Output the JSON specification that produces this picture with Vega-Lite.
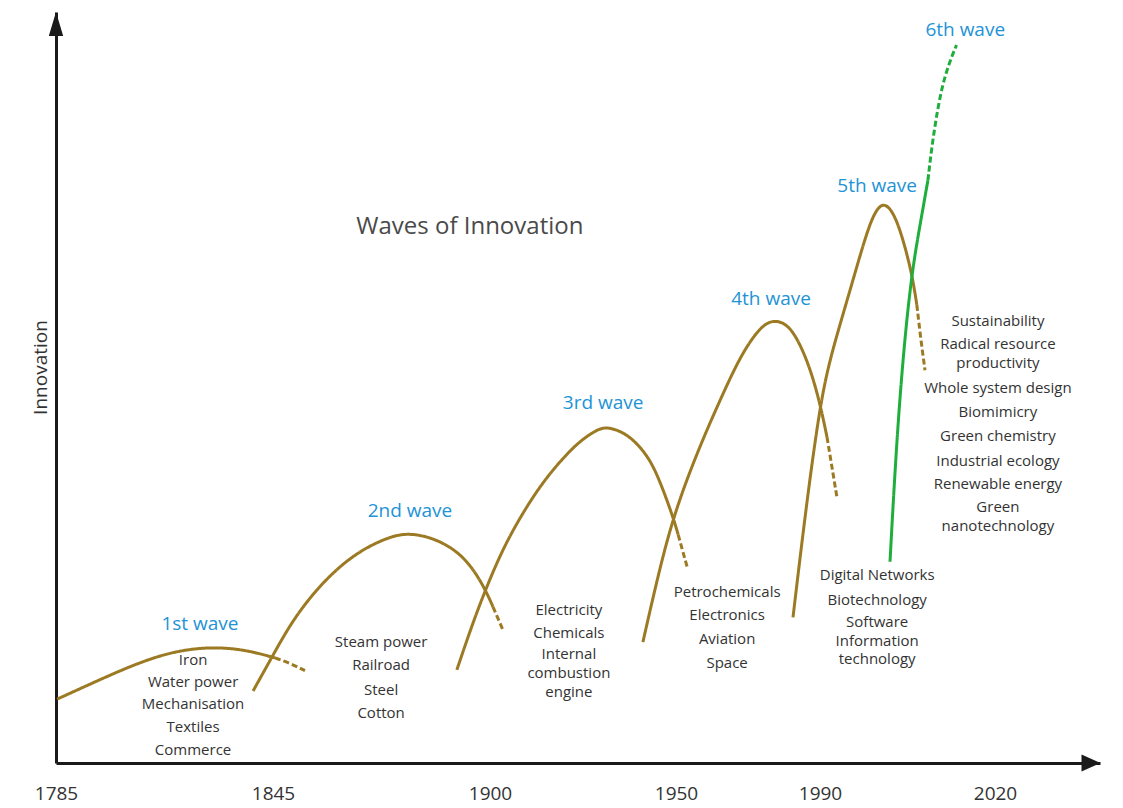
{
  "$schema": "https://vega.github.io/schema/vega-lite/v6.json",
  "width": 1044,
  "height": 751,
  "autosize": {"type": "none"},
  "padding": {"left": 56, "top": 12, "right": 23, "bottom": 45},
  "background": "white",
  "config": {"view": {"stroke": null}, "font": "Open Sans"},
  "datasets": {
    "curves": [
      {"wave": "1st", "segment": "solid", "year": 1785.3, "innovation": 8.5},
      {"wave": "1st", "segment": "solid", "year": 1794.4, "innovation": 10.5},
      {"wave": "1st", "segment": "solid", "year": 1805.5, "innovation": 12.9},
      {"wave": "1st", "segment": "solid", "year": 1816.5, "innovation": 14.8},
      {"wave": "1st", "segment": "solid", "year": 1827.6, "innovation": 15.5},
      {"wave": "1st", "segment": "solid", "year": 1837.3, "innovation": 15.1},
      {"wave": "1st", "segment": "solid", "year": 1845.5, "innovation": 14.0},
      {"wave": "1st", "segment": "dashed", "year": 1845.5, "innovation": 14.0},
      {"wave": "1st", "segment": "dashed", "year": 1849.3, "innovation": 13.3},
      {"wave": "1st", "segment": "dashed", "year": 1853.1, "innovation": 12.3},
      {"wave": "2nd", "segment": "solid", "year": 1839.5, "innovation": 9.6},
      {"wave": "2nd", "segment": "solid", "year": 1844.7, "innovation": 14.1},
      {"wave": "2nd", "segment": "solid", "year": 1849.3, "innovation": 18.4},
      {"wave": "2nd", "segment": "solid", "year": 1854.4, "innovation": 22.1},
      {"wave": "2nd", "segment": "solid", "year": 1860.2, "innovation": 25.4},
      {"wave": "2nd", "segment": "solid", "year": 1866.3, "innovation": 28.0},
      {"wave": "2nd", "segment": "solid", "year": 1872.9, "innovation": 29.8},
      {"wave": "2nd", "segment": "solid", "year": 1879.2, "innovation": 30.8},
      {"wave": "2nd", "segment": "solid", "year": 1887.3, "innovation": 29.7},
      {"wave": "2nd", "segment": "solid", "year": 1893.7, "innovation": 27.4},
      {"wave": "2nd", "segment": "solid", "year": 1898.2, "innovation": 23.8},
      {"wave": "2nd", "segment": "solid", "year": 1900.8, "innovation": 20.8},
      {"wave": "2nd", "segment": "dashed", "year": 1900.8, "innovation": 20.8},
      {"wave": "2nd", "segment": "dashed", "year": 1903.5, "innovation": 17.7},
      {"wave": "3rd", "segment": "solid", "year": 1891.6, "innovation": 12.4},
      {"wave": "3rd", "segment": "solid", "year": 1895.2, "innovation": 18.0},
      {"wave": "3rd", "segment": "solid", "year": 1898.7, "innovation": 22.9},
      {"wave": "3rd", "segment": "solid", "year": 1903.5, "innovation": 28.6},
      {"wave": "3rd", "segment": "solid", "year": 1908.9, "innovation": 33.4},
      {"wave": "3rd", "segment": "solid", "year": 1914.2, "innovation": 37.4},
      {"wave": "3rd", "segment": "solid", "year": 1919.6, "innovation": 40.6},
      {"wave": "3rd", "segment": "solid", "year": 1924.2, "innovation": 42.9},
      {"wave": "3rd", "segment": "solid", "year": 1928.8, "innovation": 44.4},
      {"wave": "3rd", "segment": "solid", "year": 1931.5, "innovation": 44.8},
      {"wave": "3rd", "segment": "solid", "year": 1936.8, "innovation": 43.9},
      {"wave": "3rd", "segment": "solid", "year": 1941.7, "innovation": 41.4},
      {"wave": "3rd", "segment": "solid", "year": 1944.9, "innovation": 38.6},
      {"wave": "3rd", "segment": "solid", "year": 1949.2, "innovation": 32.8},
      {"wave": "3rd", "segment": "solid", "year": 1950.6, "innovation": 30.4},
      {"wave": "3rd", "segment": "dashed", "year": 1950.6, "innovation": 30.4},
      {"wave": "3rd", "segment": "dashed", "year": 1953.1, "innovation": 26.1},
      {"wave": "4th", "segment": "solid", "year": 1941.1, "innovation": 16.1},
      {"wave": "4th", "segment": "solid", "year": 1944.9, "innovation": 24.4},
      {"wave": "4th", "segment": "solid", "year": 1949.2, "innovation": 32.8},
      {"wave": "4th", "segment": "solid", "year": 1955.8, "innovation": 41.3},
      {"wave": "4th", "segment": "solid", "year": 1962.2, "innovation": 48.3},
      {"wave": "4th", "segment": "solid", "year": 1967.8, "innovation": 54.1},
      {"wave": "4th", "segment": "solid", "year": 1972.5, "innovation": 57.5},
      {"wave": "4th", "segment": "solid", "year": 1976.1, "innovation": 59.0},
      {"wave": "4th", "segment": "solid", "year": 1980.3, "innovation": 58.7},
      {"wave": "4th", "segment": "solid", "year": 1983.6, "innovation": 56.7},
      {"wave": "4th", "segment": "solid", "year": 1987.2, "innovation": 52.7},
      {"wave": "4th", "segment": "solid", "year": 1990.0, "innovation": 47.9},
      {"wave": "4th", "segment": "solid", "year": 1991.2, "innovation": 43.4},
      {"wave": "4th", "segment": "dashed", "year": 1991.2, "innovation": 43.4},
      {"wave": "4th", "segment": "dashed", "year": 1992.9, "innovation": 35.4},
      {"wave": "5th", "segment": "solid", "year": 1982.5, "innovation": 19.4},
      {"wave": "5th", "segment": "solid", "year": 1986.1, "innovation": 34.0},
      {"wave": "5th", "segment": "solid", "year": 1990.0, "innovation": 47.7},
      {"wave": "5th", "segment": "solid", "year": 1991.7, "innovation": 53.7},
      {"wave": "5th", "segment": "solid", "year": 1993.4, "innovation": 58.3},
      {"wave": "5th", "segment": "solid", "year": 1995.5, "innovation": 63.9},
      {"wave": "5th", "segment": "solid", "year": 1997.4, "innovation": 69.0},
      {"wave": "5th", "segment": "solid", "year": 1998.9, "innovation": 72.6},
      {"wave": "5th", "segment": "solid", "year": 2000.6, "innovation": 74.8},
      {"wave": "5th", "segment": "solid", "year": 2002.5, "innovation": 73.6},
      {"wave": "5th", "segment": "solid", "year": 2004.2, "innovation": 69.9},
      {"wave": "5th", "segment": "solid", "year": 2005.8, "innovation": 65.0},
      {"wave": "5th", "segment": "solid", "year": 2006.6, "innovation": 61.0},
      {"wave": "5th", "segment": "dashed", "year": 2006.6, "innovation": 61.0},
      {"wave": "5th", "segment": "dashed", "year": 2007.3, "innovation": 56.3},
      {"wave": "5th", "segment": "dashed", "year": 2008.0, "innovation": 52.3},
      {"wave": "6th", "segment": "solid", "year": 2002.0, "innovation": 26.8},
      {"wave": "6th", "segment": "solid", "year": 2003.2, "innovation": 43.9},
      {"wave": "6th", "segment": "solid", "year": 2004.6, "innovation": 57.3},
      {"wave": "6th", "segment": "solid", "year": 2005.9, "innovation": 66.1},
      {"wave": "6th", "segment": "solid", "year": 2007.3, "innovation": 72.3},
      {"wave": "6th", "segment": "solid", "year": 2008.5, "innovation": 77.6},
      {"wave": "6th", "segment": "dashed", "year": 2008.5, "innovation": 77.6},
      {"wave": "6th", "segment": "dashed", "year": 2009.3, "innovation": 83.0},
      {"wave": "6th", "segment": "dashed", "year": 2011.0, "innovation": 91.0},
      {"wave": "6th", "segment": "dashed", "year": 2013.4, "innovation": 95.6}
    ],
    "waveNames": [
      {"label": "1st wave", "year": 1824.8, "innovation": 18.5},
      {"label": "2nd wave", "year": 1879.7, "innovation": 33.6},
      {"label": "3rd wave", "year": 1930.4, "innovation": 47.9},
      {"label": "4th wave", "year": 1976.4, "innovation": 61.8},
      {"label": "5th wave", "year": 1999.8, "innovation": 76.8},
      {"label": "6th wave", "year": 2014.9, "innovation": 97.6}
    ],
    "items": [
      {"label": "Iron", "year": 1822.9, "innovation": 13.7},
      {"label": "Water power", "year": 1822.9, "innovation": 10.8},
      {"label": "Mechanisation", "year": 1822.9, "innovation": 7.9},
      {"label": "Textiles", "year": 1822.9, "innovation": 4.8},
      {"label": "Commerce", "year": 1822.9, "innovation": 1.7},
      {"label": "Steam power", "year": 1872.4, "innovation": 16.1},
      {"label": "Railroad", "year": 1872.4, "innovation": 13.05},
      {"label": "Steel", "year": 1872.4, "innovation": 9.7},
      {"label": "Cotton", "year": 1872.4, "innovation": 6.7},
      {"label": "Electricity", "year": 1921.2, "innovation": 20.4},
      {"label": "Chemicals", "year": 1921.2, "innovation": 17.3},
      {"label": "Internal", "year": 1921.2, "innovation": 14.5},
      {"label": "combustion", "year": 1921.2, "innovation": 12.0},
      {"label": "engine", "year": 1921.2, "innovation": 9.5},
      {"label": "Petrochemicals", "year": 1964.2, "innovation": 22.8},
      {"label": "Electronics", "year": 1964.2, "innovation": 19.7},
      {"label": "Aviation", "year": 1964.2, "innovation": 16.5},
      {"label": "Space", "year": 1964.2, "innovation": 13.3},
      {"label": "Digital Networks", "year": 1999.8, "innovation": 25.0},
      {"label": "Biotechnology", "year": 1999.8, "innovation": 21.7},
      {"label": "Software", "year": 1999.8, "innovation": 18.8},
      {"label": "Information", "year": 1999.8, "innovation": 16.3},
      {"label": "technology", "year": 1999.8, "innovation": 13.8},
      {"label": "Sustainability", "year": 2020.5, "innovation": 58.8},
      {"label": "Radical resource", "year": 2020.5, "innovation": 55.8},
      {"label": "productivity", "year": 2020.5, "innovation": 53.2},
      {"label": "Whole system design", "year": 2020.5, "innovation": 49.9},
      {"label": "Biomimicry", "year": 2020.5, "innovation": 46.7},
      {"label": "Green chemistry", "year": 2020.5, "innovation": 43.5},
      {"label": "Industrial ecology", "year": 2020.5, "innovation": 40.2},
      {"label": "Renewable energy", "year": 2020.5, "innovation": 37.15},
      {"label": "Green", "year": 2020.5, "innovation": 34.1},
      {"label": "nanotechnology", "year": 2020.5, "innovation": 31.6}
    ],
    "title": [
      {"label": "Waves of Innovation", "year": 1894.9, "innovation": 71.4}
    ],
    "xArrow": [{"year": 2038, "innovation": 0}],
    "yArrow": [{"year": 1785, "innovation": 100}]
  },
  "encoding": {
    "x": {
      "field": "year",
      "type": "quantitative",
      "scale": {
        "domain": [1785, 1845, 1900, 1950, 1990, 2020, 2038],
        "range": [0, 217, 434, 620, 764, 939, 1044],
        "nice": false,
        "zero": false
      },
      "axis": {
        "title": null,
        "values": [1785, 1845, 1900, 1950, 1990, 2020],
        "format": "d",
        "ticks": false,
        "grid": false,
        "domain": true,
        "domainColor": "#1a1a1a",
        "domainWidth": 3,
        "labelFont": "Open Sans",
        "labelFontSize": 19,
        "labelColor": "#333333",
        "labelPadding": 21,
        "labelFlush": false,
        "labelOverlap": false
      }
    },
    "y": {
      "field": "innovation",
      "type": "quantitative",
      "scale": {"domain": [0, 100], "nice": false, "zero": true},
      "axis": {
        "title": "Innovation",
        "titleFont": "Open Sans",
        "titleFontSize": 19,
        "titleFontWeight": "normal",
        "titleColor": "#333333",
        "titlePadding": 6,
        "titleY": 355,
        "labels": false,
        "ticks": false,
        "grid": false,
        "domain": true,
        "domainColor": "#1a1a1a",
        "domainWidth": 3
      }
    }
  },
  "layer": [
    {
      "data": {"name": "curves"},
      "transform": [{"filter": "datum.wave !== '6th'"}],
      "mark": {"type": "line", "interpolate": "basis", "color": "#9c7a24", "strokeWidth": 3},
      "encoding": {
        "detail": {"field": "wave"},
        "strokeDash": {
          "field": "segment",
          "type": "nominal",
          "scale": {"domain": ["solid", "dashed"], "range": [[1, 0], [6, 3]]},
          "legend": null
        }
      }
    },
    {
      "data": {"name": "curves"},
      "transform": [{"filter": "datum.wave === '6th'"}],
      "mark": {"type": "line", "interpolate": "basis", "color": "#1fae3c", "strokeWidth": 3},
      "encoding": {
        "detail": {"field": "segment"},
        "strokeDash": {
          "field": "segment",
          "type": "nominal",
          "scale": {"domain": ["solid", "dashed"], "range": [[1, 0], [11, 5]]},
          "legend": null
        }
      }
    },
    {
      "data": {"name": "waveNames"},
      "mark": {"type": "text", "font": "Open Sans", "fontSize": 19, "color": "#1e93d6", "align": "center", "baseline": "middle"},
      "encoding": {"text": {"field": "label"}}
    },
    {
      "data": {"name": "items"},
      "mark": {"type": "text", "font": "Open Sans", "fontSize": 15, "color": "#333333", "align": "center", "baseline": "middle"},
      "encoding": {"text": {"field": "label"}}
    },
    {
      "data": {"name": "title"},
      "mark": {"type": "text", "font": "Open Sans", "fontSize": 24, "color": "#4a4a4a", "align": "center", "baseline": "middle"},
      "encoding": {"text": {"field": "label"}}
    },
    {
      "data": {"name": "xArrow"},
      "mark": {"type": "point", "shape": "M1,0L-1,-0.9L-1,0.9Z", "size": 361, "filled": true, "color": "#1a1a1a", "opacity": 1, "xOffset": -9}
    },
    {
      "data": {"name": "yArrow"},
      "mark": {"type": "point", "shape": "M0,-1L-0.6,1L0.6,1Z", "size": 576, "filled": true, "color": "#1a1a1a", "opacity": 1, "yOffset": 12}
    }
  ]
}
